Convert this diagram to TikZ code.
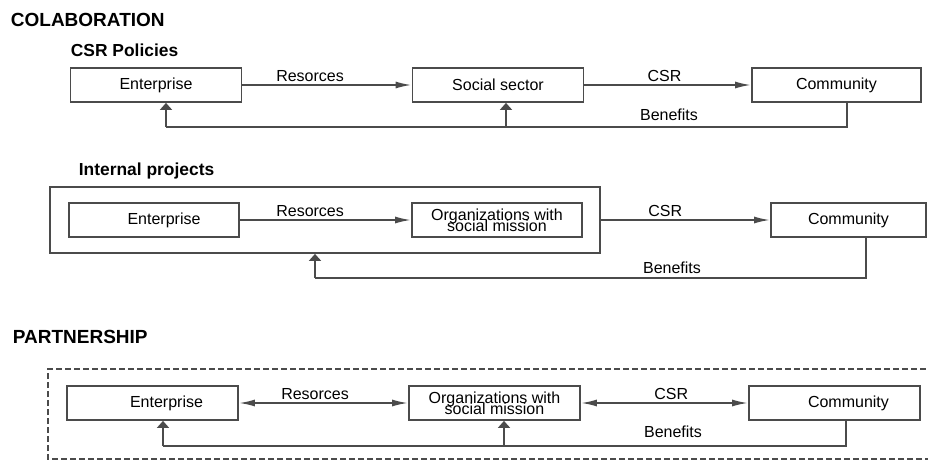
\documentclass[tikz,border=0pt]{standalone}
\usepackage{fontspec}
\setmainfont{Liberation Sans}
\usetikzlibrary{arrows.meta}
\definecolor{linegrey}{RGB}{75,75,75}
\newcommand\boxfont{\fontsize{8}{5.6}\selectfont\lineskiplimit=-10pt\relax}

\begin{document}
\begin{tikzpicture}[x=0.5pt,y=-0.5pt,line width=0.9pt,
  box/.style={draw=linegrey,minimum width=85.5pt,minimum height=17pt,inner sep=0pt,align=center,font=\boxfont},
  flow/.style={draw=linegrey,-{Latex[length=8pt,width=3.5pt]}},
  twoway/.style={draw=linegrey,{Latex[length=8pt,width=3.5pt]}-{Latex[length=8pt,width=3.5pt]}},
  up/.style={draw=linegrey,-{Triangle[length=3.5pt,width=6pt]}},
  lbl/.style={inner sep=1pt,font=\fontsize{8}{10}\selectfont},
  head/.style={anchor=west,inner sep=0pt,font=\bfseries\fontsize{9.5}{11}\selectfont},
  subhead/.style={anchor=west,inner sep=0pt,font=\bfseries\fontsize{8.7}{10}\selectfont},
  frame/.style={draw=linegrey,line width=0.6pt,dash pattern=on 3pt off 1.5pt}]
\useasboundingbox (0,0) rectangle (928,461);
\clip (0,0) rectangle (928,461);

\node[head] (colab) at (10,20) {COLABORATION};
\node[subhead] (csrpol) at (70,50) {CSR Policies};
\node[box] (e1) at (156,85) {Enterprise};
\node[box] (s1) at (498,85) {Social sector};
\node[box,minimum width=84.5pt] (c1) at (836.5,85) {Community};
\draw[flow] (e1) -- node[lbl,above,pos=0.4] {Resorces} (s1);
\draw[flow] (s1) -- node[lbl,above,pos=0.48] {CSR} (c1);
\coordinate (r1) at (847,127); \coordinate (l1) at (166,127); \coordinate (m1) at (506,127);
\draw[linegrey] (c1.south -| r1) -- (r1) -- (l1);
\draw[up] (l1) -- (l1 |- e1.south);
\draw[up] (m1) -- (m1 |- s1.south);
\node[lbl] (b1) at (669,115) {Benefits};

\node[subhead] (intproj) at (78,171) {Internal projects};
\node[draw=linegrey,minimum width=275pt,minimum height=33pt,inner sep=0pt] (ip) at (325,220) {};
\node[box,minimum width=85pt] (e2) at (154,220) {\hspace*{10pt}Enterprise};
\node[box,minimum width=85pt] (o2) at (497,220) {Organizations with\\social mission};
\node[box,minimum width=77.5pt] (c2) at (848.5,220) {Community};
\draw[flow] (e2) -- node[lbl,above,pos=0.41] {Resorces} (o2);
\draw[flow] (ip.east) -- node[lbl,above,pos=0.38] {CSR} (c2);
\coordinate (r2) at (866,278); \coordinate (l2) at (315,278);
\draw[linegrey] (c2.south -| r2) -- (r2) -- (l2);
\draw[up] (l2) -- (l2 |- ip.south);
\node[lbl] (b2) at (672,268) {Benefits};

\node[head] (partner) at (12,337) {PARTNERSHIP};
\draw[frame] (940,459) -- (48,459) -- (48,369) -- (940,369);
\node[box] (e3) at (152.5,403) {\hspace*{14pt}Enterprise};
\node[box] (o3) at (494.5,403) {Organizations with\\social mission};
\node[box] (c3) at (834.5,403) {\hspace*{14pt}Community};
\draw[twoway] (e3) -- node[lbl,above,pos=0.45] {Resorces} (o3);
\draw[twoway] (o3) -- node[lbl,above,pos=0.54] {CSR} (c3);
\coordinate (r3) at (846,446); \coordinate (l3) at (163,446); \coordinate (m3) at (504,446);
\draw[linegrey] (c3.south -| r3) -- (r3) -- (l3);
\draw[up] (l3) -- (l3 |- e3.south);
\draw[up] (m3) -- (m3 |- o3.south);
\node[lbl] (b3) at (673,432) {Benefits};
\end{tikzpicture}
\end{document}
